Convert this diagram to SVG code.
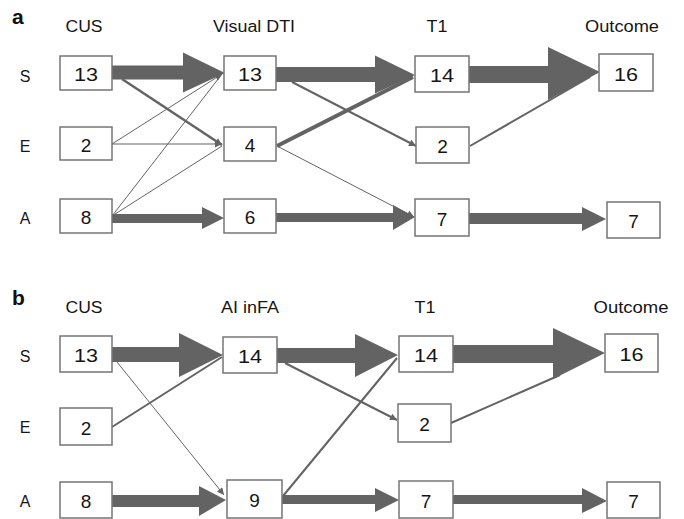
<svg xmlns="http://www.w3.org/2000/svg" width="684" height="519" viewBox="0 0 684 519">
<defs>
<style>
.bx{fill:#fff;stroke:#757575;stroke-width:1.5}
.num{font-family:"Liberation Sans",Arial,sans-serif;font-size:19px;fill:#151515;text-anchor:middle}
.hd{font-family:"Liberation Sans",Arial,sans-serif;font-size:16px;fill:#151515;text-anchor:middle}
.pl{font-family:"Liberation Sans",Arial,sans-serif;font-size:21px;font-weight:bold;fill:#111}
.blk{fill:#636363;stroke:none}
.ln{stroke:#636363;fill:none}
</style>
<marker id="ah" viewBox="0 0 10 10" refX="10" refY="5" markerWidth="8" markerHeight="7" markerUnits="userSpaceOnUse" orient="auto">
<path d="M0,0 L10,5 L0,10 z" fill="#636363"/>
</marker>
</defs>
<rect width="684" height="519" fill="#fff"/>

<!-- panel labels and headers -->
<text class="pl" x="12" y="24">a</text>
<text class="hd" x="84" y="32" textLength="37" lengthAdjust="spacingAndGlyphs">CUS</text>
<text class="hd" x="254" y="32" textLength="82" lengthAdjust="spacingAndGlyphs">Visual DTI</text>
<text class="hd" x="437" y="32" textLength="21" lengthAdjust="spacingAndGlyphs">T1</text>
<text class="hd" x="622" y="32" textLength="74" lengthAdjust="spacingAndGlyphs">Outcome</text>
<text class="hd" x="25" y="82">S</text>
<text class="hd" x="25" y="152">E</text>
<text class="hd" x="25" y="224">A</text>

<text class="pl" x="12" y="305">b</text>
<text class="hd" x="84" y="313" textLength="37" lengthAdjust="spacingAndGlyphs">CUS</text>
<text class="hd" x="250" y="313" textLength="58" lengthAdjust="spacingAndGlyphs">AI inFA</text>
<text class="hd" x="425" y="313" textLength="21" lengthAdjust="spacingAndGlyphs">T1</text>
<text class="hd" x="631" y="313" textLength="75" lengthAdjust="spacingAndGlyphs">Outcome</text>
<text class="hd" x="25" y="362">S</text>
<text class="hd" x="25" y="433">E</text>
<text class="hd" x="25" y="507">A</text>

<g id="connectors">
<!-- panel a block arrows -->
<polygon class="blk" points="112,65.5 183,65.5 183,52.5 225,73 183,92.5 183,79.5 112,79.5"/>
<polygon class="blk" points="276,67 375,67 375,55.5 415,75 375,93.5 375,82 276,82"/>
<polygon class="blk" points="469,66 548,66 548,47 600,72 548,100 548,83 469,83"/>
<polygon class="blk" points="112,214 202,214 202,207 224,218 202,229 202,223 112,223"/>
<polygon class="blk" points="276,213 393,213 393,205 415,217 393,230 393,222 276,222"/>
<polygon class="blk" points="469,213 582,213 582,207 606,219 582,231 582,224 469,224"/>
<!-- panel a thin -->
<line class="ln" x1="122" y1="79" x2="222" y2="145" stroke-width="2.5" marker-end="url(#ah)"/>
<line class="ln" x1="112" y1="144" x2="222" y2="74" stroke-width="1" marker-end="url(#ah)"/>
<line class="ln" x1="112" y1="144" x2="222" y2="144" stroke-width="1" marker-end="url(#ah)"/>
<line class="ln" x1="112" y1="216" x2="222" y2="74" stroke-width="1"/>
<line class="ln" x1="112" y1="216" x2="222" y2="146" stroke-width="1"/>
<line class="ln" x1="292" y1="82" x2="416" y2="146" stroke-width="2" marker-end="url(#ah)"/>
<line class="ln" x1="277" y1="146" x2="413" y2="77" stroke-width="4"/>
<line class="ln" x1="277" y1="146" x2="414" y2="217" stroke-width="1" marker-end="url(#ah)"/>
<line class="ln" x1="470" y1="146" x2="590" y2="77" stroke-width="2"/>
<!-- panel b block arrows -->
<polygon class="blk" points="112,347 179,347 179,333 223,355 179,377 179,362 112,362"/>
<polygon class="blk" points="277,348 355,348 355,334 398,355 355,377 355,363 277,363"/>
<polygon class="blk" points="453,345 553,345 553,328 605,353 553,379 553,363 453,363"/>
<polygon class="blk" points="112,495 199,495 199,486 226,500 199,516 199,507 112,507"/>
<polygon class="blk" points="282,495 375,495 375,488 399,500 375,512 375,504 282,504"/>
<polygon class="blk" points="453,495 582,495 582,488 607,501 582,513 582,504 453,504"/>
<!-- panel b thin -->
<line class="ln" x1="117" y1="362" x2="224" y2="495" stroke-width="1" marker-end="url(#ah)"/>
<line class="ln" x1="112" y1="427" x2="222" y2="357" stroke-width="2"/>
<line class="ln" x1="285" y1="363" x2="397" y2="420" stroke-width="2" marker-end="url(#ah)"/>
<line class="ln" x1="283" y1="496" x2="397" y2="358" stroke-width="2"/>
<line class="ln" x1="451" y1="423" x2="560" y2="375" stroke-width="2"/>
</g>

<!-- panel a nodes -->
<g id="a-cus-s"><rect class="bx" x="60" y="56" width="52" height="34"/><text class="num" x="86" y="81" textLength="24" lengthAdjust="spacingAndGlyphs">13</text></g>
<g id="a-cus-e"><rect class="bx" x="60" y="127" width="52" height="33"/><text class="num" x="86" y="151.5">2</text></g>
<g id="a-cus-a"><rect class="bx" x="60" y="199" width="52" height="34"/><text class="num" x="86" y="224">8</text></g>
<g id="a-dti-s"><rect class="bx" x="224" y="56" width="52" height="34"/><text class="num" x="250" y="81" textLength="24" lengthAdjust="spacingAndGlyphs">13</text></g>
<g id="a-dti-e"><rect class="bx" x="224" y="127" width="52" height="34"/><text class="num" x="250" y="152">4</text></g>
<g id="a-dti-a"><rect class="bx" x="224" y="199" width="52" height="34"/><text class="num" x="250" y="224">6</text></g>
<g id="a-t1-s"><rect class="bx" x="415" y="56" width="54" height="36"/><text class="num" x="442" y="82" textLength="24" lengthAdjust="spacingAndGlyphs">14</text></g>
<g id="a-t1-e"><rect class="bx" x="416" y="127" width="53" height="36"/><text class="num" x="442.5" y="153">2</text></g>
<g id="a-t1-a"><rect class="bx" x="415" y="199" width="54" height="37"/><text class="num" x="442" y="225.5">7</text></g>
<g id="a-out-s"><rect class="bx" x="599" y="54" width="54" height="37"/><text class="num" x="626" y="80.5" textLength="24" lengthAdjust="spacingAndGlyphs">16</text></g>
<g id="a-out-a"><rect class="bx" x="607" y="202" width="53" height="36"/><text class="num" x="633.5" y="228">7</text></g>

<!-- panel b nodes -->
<g id="b-cus-s"><rect class="bx" x="60" y="336" width="52" height="36"/><text class="num" x="86" y="362" textLength="24" lengthAdjust="spacingAndGlyphs">13</text></g>
<g id="b-cus-e"><rect class="bx" x="60" y="408" width="52" height="37"/><text class="num" x="86" y="434.5">2</text></g>
<g id="b-cus-a"><rect class="bx" x="60" y="482" width="52" height="36"/><text class="num" x="86" y="508">8</text></g>
<g id="b-ai-s"><rect class="bx" x="223" y="337" width="54" height="36"/><text class="num" x="250" y="363" textLength="24" lengthAdjust="spacingAndGlyphs">14</text></g>
<g id="b-ai-a"><rect class="bx" x="227" y="480" width="55" height="38"/><text class="num" x="254.5" y="507">9</text></g>
<g id="b-t1-s"><rect class="bx" x="399" y="336" width="54" height="36"/><text class="num" x="426" y="362" textLength="24" lengthAdjust="spacingAndGlyphs">14</text></g>
<g id="b-t1-e"><rect class="bx" x="398" y="404" width="53" height="38"/><text class="num" x="424.5" y="431">2</text></g>
<g id="b-t1-a"><rect class="bx" x="399" y="481" width="54" height="37"/><text class="num" x="426" y="507.5">7</text></g>
<g id="b-out-s"><rect class="bx" x="605" y="334" width="53" height="38"/><text class="num" x="631.5" y="361" textLength="24" lengthAdjust="spacingAndGlyphs">16</text></g>
<g id="b-out-a"><rect class="bx" x="607" y="482" width="53" height="36"/><text class="num" x="633.5" y="508">7</text></g>
</svg>
